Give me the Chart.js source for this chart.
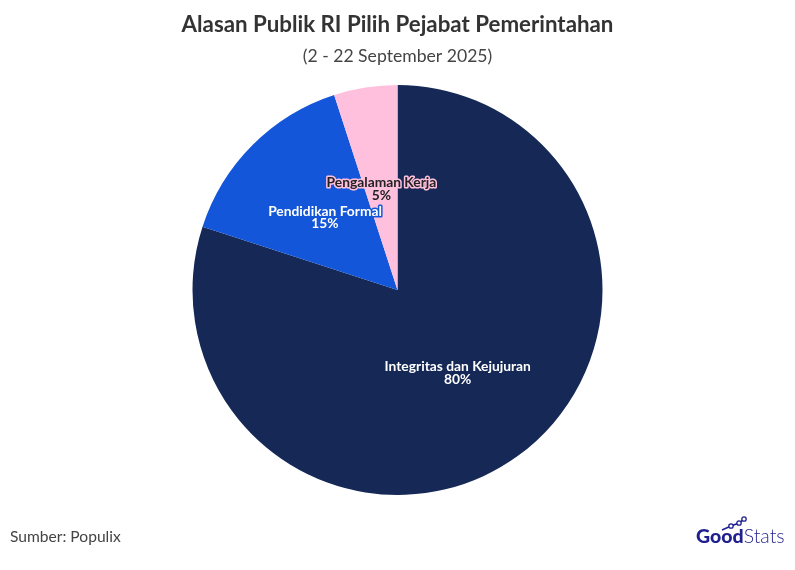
<!DOCTYPE html>
<html>
<head>
<meta charset="utf-8">
<script src="https://cdn.jsdelivr.net/npm/chart.js@4.4.1/dist/chart.umd.min.js"></script>
<style>
  html, body { margin: 0; padding: 0; background: #fff; }
  #wrap { position: relative; width: 795px; height: 570px; }
  #logo { position: absolute; left: 696px; top: 516px; }
</style>
</head>
<body>
<div id="wrap">
  <canvas id="myChart" width="795" height="570"></canvas>
  <svg id="logo" width="99" height="30" viewBox="0 0 99 30">
    <polyline points="26,14 35,10 43,7 48,3" fill="none" stroke="#1f1f8f" stroke-width="1.5"/>
    <circle cx="35" cy="10" r="2.2" fill="#fff" stroke="#1f1f8f" stroke-width="1.3"/>
    <circle cx="43" cy="7" r="2.2" fill="#fff" stroke="#1f1f8f" stroke-width="1.3"/>
    <circle cx="48" cy="3" r="2.2" fill="#fff" stroke="#1f1f8f" stroke-width="1.3"/>
    <text x="0" y="27" font-family="Lato, sans-serif" font-size="19.5" fill="#1f1f8f"><tspan font-weight="900">Good</tspan><tspan font-weight="300">Stats</tspan></text>
  </svg>
</div>
<script>
const categories = ["Integritas dan Kejujuran", "Pendidikan Formal", "Pengalaman Kerja"];
const values = [80, 15, 5];
const sliceColors = ["#152856", "#1456d9", "#ffc0de"];
const labelColors = ["#ffffff", "#ffffff", "#222222"];

const titleText = "Alasan Publik RI Pilih Pejabat Pemerintahan";
const subtitleText = "(2 - 22 September 2025)";
const sourceText = "Sumber: Populix";

// judul, subjudul dan sumber digambar manual
const textPlugin = {
  id: "texts",
  afterDraw(chart) {
    const c = chart.ctx;
    c.save();
    c.textAlign = "center";
    c.textBaseline = "middle";
    c.fillStyle = "#333333";
    c.font = "bold 22.3px Lato, sans-serif";
    c.fillText(titleText, chart.width / 2, 25);
    c.fillStyle = "#444444";
    c.font = "17.6px Lato, sans-serif";
    c.fillText(subtitleText, chart.width / 2, 56);
    c.textAlign = "left";
    c.font = "15.6px Lato, sans-serif";
    c.fillStyle = "#444444";
    c.fillText(sourceText, 10, 537);
    c.restore();
  },
};

// label di tengah irisan
const sliceLabels = {
  id: "sliceLabels",
  afterDatasetsDraw(chart) {
    const c = chart.ctx;
    const meta = chart.getDatasetMeta(0);
    c.save();
    c.textAlign = "center";
    c.textBaseline = "middle";
    c.font = "bold 13.8px Lato, sans-serif";
    c.lineJoin = "round";
    meta.data.forEach((arc, i) => {
      const p = arc.tooltipPosition();
      const lines = [categories[i], values[i] + "%"];
      lines.forEach((t, j) => {
        const y = p.y - 6 + j * 12.5;
        c.lineWidth = 3;
        c.strokeStyle = sliceColors[i];
        c.strokeText(t, p.x, y);
        c.fillStyle = labelColors[i];
        c.fillText(t, p.x, y);
      });
    });
    c.restore();
  },
};

new Chart(document.getElementById("myChart").getContext("2d"), {
  type: "pie",
  data: {
    labels: categories,
    datasets: [{
      data: values,
      backgroundColor: sliceColors,
      borderWidth: 0,
    }],
  },
  options: {
    responsive: false,
    animation: false,
    layout: { padding: { top: 85, bottom: 75 } },
    plugins: {
      legend: { display: false },
      tooltip: { enabled: false },
    },
  },
  plugins: [textPlugin, sliceLabels],
});
</script>
</body>
</html>
